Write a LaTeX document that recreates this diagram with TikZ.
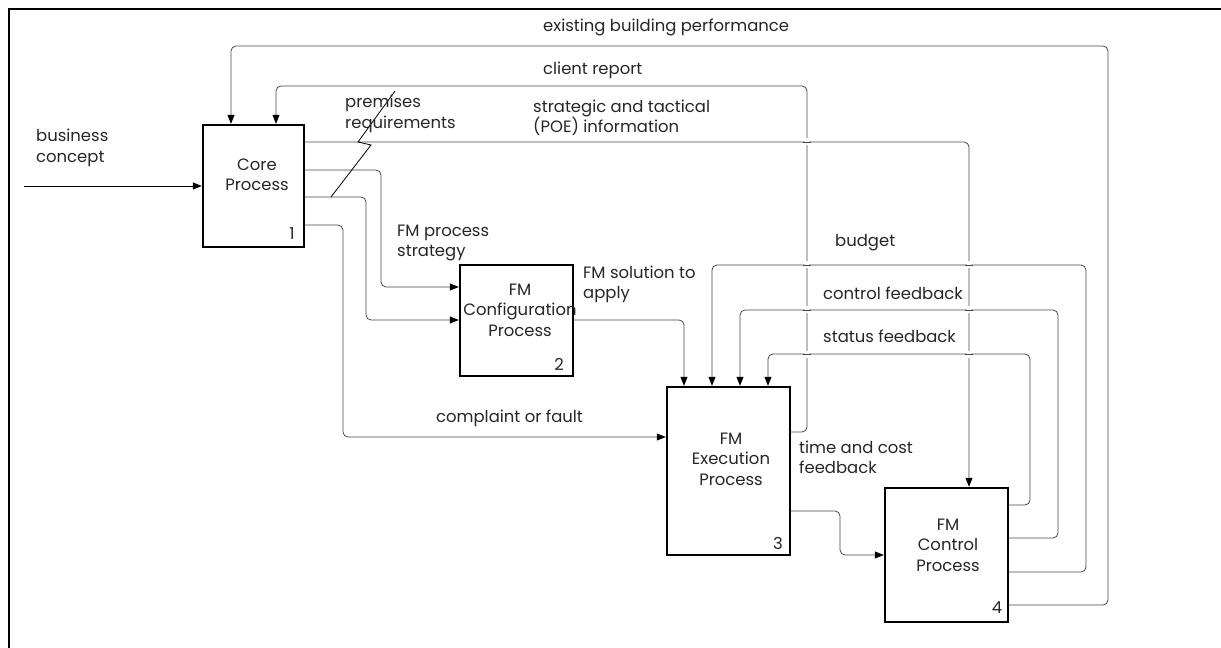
\documentclass[tikz,border=0pt]{standalone}
\usepackage{fontspec}
\setmainfont{Poppins}
\usetikzlibrary{arrows.meta}
\begin{document}
\begin{tikzpicture}[x=1bp,y=-1bp,
  font=\fontsize{16.5}{20.5}\selectfont,
  procbox/.style={draw=black, line width=2.4bp, fill=white, inner sep=0pt},
  boxtext/.style={align=center, text=black!85, inner sep=0pt},
  boxnum/.style={text=black!85, inner sep=0pt},
  lbl/.style={align=left, anchor=west, text=black!85, inner sep=0pt},
  conn/.style={draw=black!72, line width=0.8bp, rounded corners=5bp},
  flow/.style={conn, -{Triangle[length=9bp,width=7bp,color=black]}}]

\useasboundingbox (0,0) rectangle (1221,648);

% page frame (top and left edges)
\draw[line width=2bp] (9,648) -- (9,9) -- (1221,9);

% activity boxes
\node[procbox, minimum width=101bp, minimum height=122bp] (core) at (253.5,186) {};
\node[procbox, minimum width=113bp, minimum height=111bp] (cfg)  at (516.5,320.5) {};
\node[procbox, minimum width=123bp, minimum height=168bp] (exec) at (728.5,471) {};
\node[procbox, minimum width=123bp, minimum height=134bp] (ctrl) at (946.5,555) {};

\node[boxtext] (coret) at (257,175) {Core\\Process};
\node[boxtext] (cfgt)  at (520,310) {FM\\Configuration\\Process};
\node[boxtext] (exect) at (731,459) {FM\\Execution\\Process};
\node[boxtext] (ctrlt) at (948,545) {FM\\Control\\Process};
\node[boxnum] (coren) at (292,234) {1};
\node[boxnum] (cfgn)  at (559,364) {2};
\node[boxnum] (execn) at (778,543) {3};
\node[boxnum] (ctrln) at (997,608) {4};

% input from outside
\coordinate (bcin) at (24,186);
\draw[flow, draw=black] (bcin) -- (core.west);

% feedback loops back to the core process
\draw[flow] (ctrl.east |- 0,605) -- (1108,605) -- (1108,46) -- (231,46) -- (231,0 |- core.north);
\draw[flow] (exec.east |- 0,432) -- (807,432) -- (807,86) -- (276,86) -- (276,0 |- core.north);

% core process outputs
\draw[flow] (core.east |- 0,142) -- (969,142) -- (969,0 |- ctrl.north);
\draw[flow] (core.east |- 0,170) -- (381,170) -- (381,287) -- (cfg.west |- 0,287);
\draw[flow] (core.east |- 0,197) -- (366,197) -- (366,320) -- (cfg.west |- 0,320);
\draw[flow] (core.east |- 0,225) -- (343,225) -- (343,437) -- (exec.west |- 0,437);

% configuration to execution
\draw[flow] (cfg.east |- 0,320) -- (684,320) -- (684,0 |- exec.north);

% control outputs back to execution
\draw[flow] (ctrl.east |- 0,572) -- (1086,572) -- (1086,265) -- (712,265) -- (712,0 |- exec.north);
\draw[flow] (ctrl.east |- 0,538) -- (1058,538) -- (1058,310) -- (740,310) -- (740,0 |- exec.north);
\draw[flow] (ctrl.east |- 0,505) -- (1030,505) -- (1030,354) -- (768,354) -- (768,0 |- exec.north);

% execution to control
\draw[flow] (exec.east |- 0,511) -- (840,511) -- (840,555) -- (ctrl.west |- 0,555);

% line crossings: the vertical line is broken under the horizontal one
\newcommand\crossgap[2]{%
  \fill[white] (#1-2,#2-3.5) rectangle (#1+2,#2+3.5);
  \draw[conn] (#1-4,#2) -- (#1+4,#2);}
\crossgap{807}{142}
\crossgap{807}{265}
\crossgap{807}{310}
\crossgap{807}{354}
\crossgap{969}{265}
\crossgap{969}{310}
\crossgap{969}{354}

% squiggle tying the label to its arrow
\coordinate (sq0) at (331,197);
\coordinate (sq1) at (371,145);
\coordinate (sq2) at (358,142);
\coordinate (sq3) at (395,91);
\draw[black, line width=0.8bp] (sq0) -- (sq1) -- (sq2) -- (sq3);

% arrow labels
\node[lbl] (lbc)   at (36,148)   {business\\concept};
\node[lbl] (lebp)  at (543,27)   {existing building performance};
\node[lbl] (lcr)   at (543,70)   {client report};
\node[lbl] (lpoe)  at (533,118)  {strategic and tactical\\(POE) information};
\node[lbl] (lprem) at (345,114)  {premises\\requirements};
\node[lbl] (lfmps) at (397,243)  {FM process\\strategy};
\node[lbl] (lsol)  at (583,284.5){FM solution to\\apply};
\node[lbl] (lcf)   at (436,418)  {complaint or fault};
\node[lbl] (lbud)  at (835,243)  {budget};
\node[lbl] (lcfb)  at (823,293)  {control feedback};
\node[lbl] (lsfb)  at (823,336)  {status feedback};
\node[lbl] (ltcf)  at (799,457.5){time and cost\\feedback};
\end{tikzpicture}
\end{document}
